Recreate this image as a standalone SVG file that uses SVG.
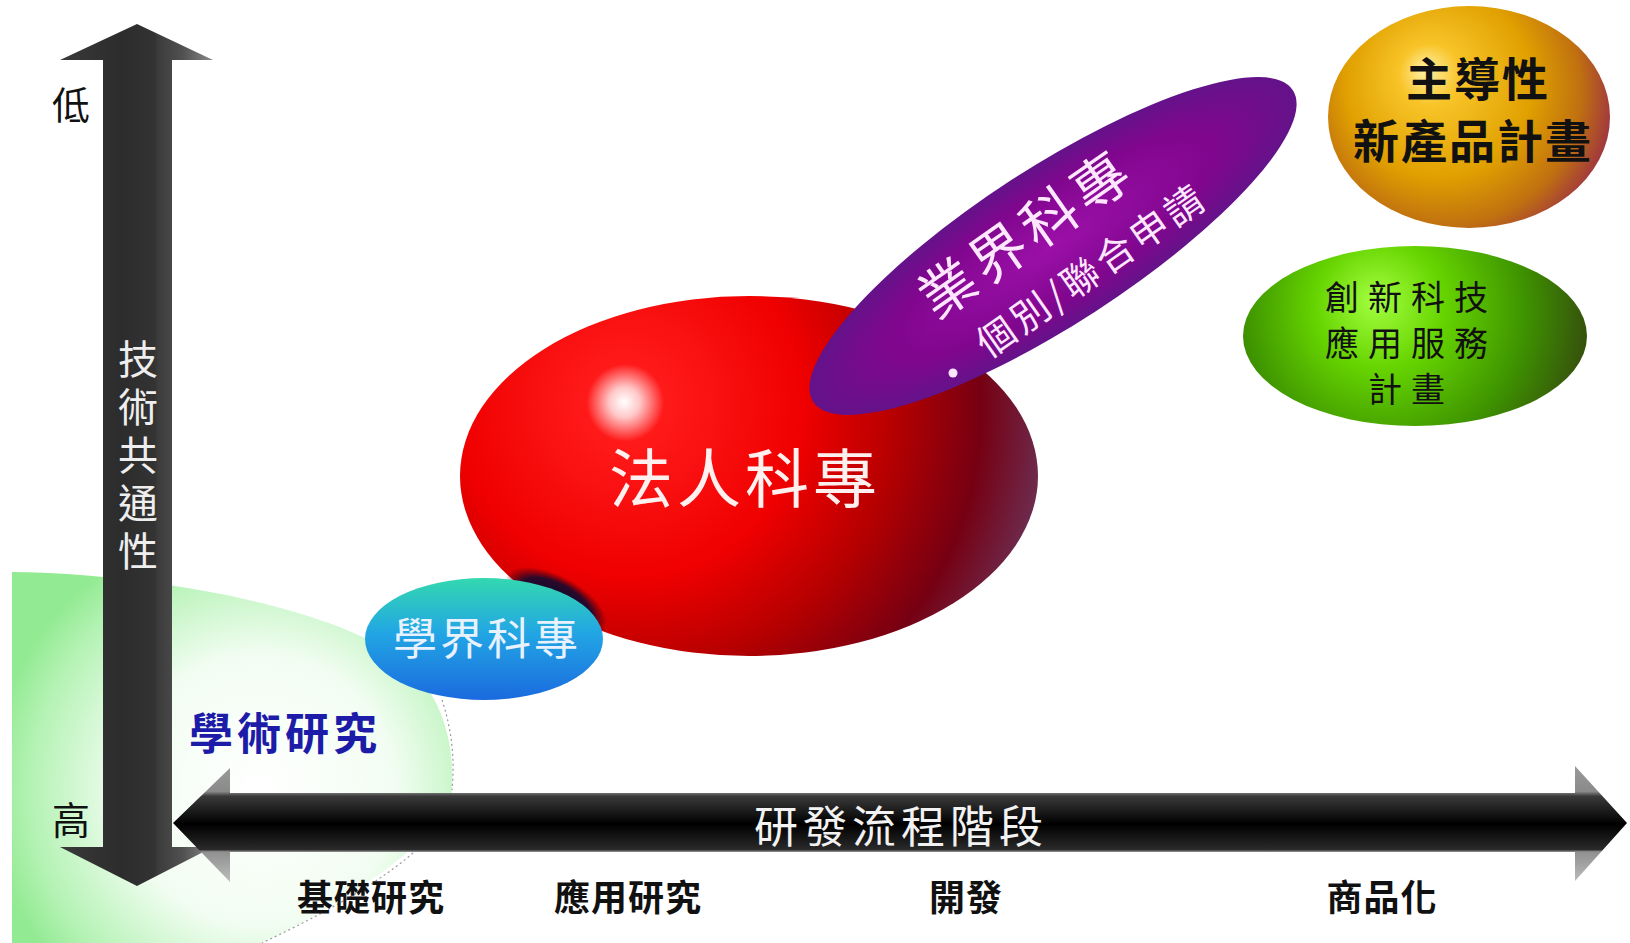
<svg xmlns="http://www.w3.org/2000/svg" width="1630" height="943" viewBox="0 0 1630 943">
<style>
text{font-family:"Noto Sans CJK TC","Noto Sans CJK SC",sans-serif;dominant-baseline:central;text-anchor:middle}
.stage{font-size:36px;font-weight:700;fill:#111;letter-spacing:1px}
.lvl{font-size:38px;fill:#111}
.blk{fill:#111}
</style>
<defs>
<radialGradient id="gGreenBg" gradientUnits="userSpaceOnUse" cx="260" cy="790" r="270">
<stop offset="0" stop-color="#ffffff"/><stop offset="0.5" stop-color="#f2fdf2"/><stop offset="0.85" stop-color="#b4f2b4"/><stop offset="1" stop-color="#92ea92"/>
</radialGradient>
<linearGradient id="gVert" x1="0" y1="0" x2="1" y2="0">
<stop offset="0" stop-color="#3a3a3a"/><stop offset="0.4" stop-color="#2c2c2c"/><stop offset="0.62" stop-color="#333"/><stop offset="0.64" stop-color="#3c3c3c"/><stop offset="0.8" stop-color="#505050"/><stop offset="1" stop-color="#8a8a8a"/>
</linearGradient>
<linearGradient id="gHoriz" gradientUnits="userSpaceOnUse" x1="0" y1="766" x2="0" y2="882">
<stop offset="0" stop-color="#9a9a9a"/><stop offset="0.22" stop-color="#8a8a8a"/><stop offset="0.26" stop-color="#3a3a3a"/><stop offset="0.5" stop-color="#000"/><stop offset="0.72" stop-color="#2a2a2a"/><stop offset="0.74" stop-color="#909090"/><stop offset="1" stop-color="#bdbdbd"/>
</linearGradient>
<radialGradient id="gRed" gradientUnits="userSpaceOnUse" cx="640" cy="410" r="430" fx="624" fy="402">
<stop offset="0" stop-color="#ffffff"/><stop offset="0.035" stop-color="#ffc8c8"/><stop offset="0.09" stop-color="#ff1a1a"/><stop offset="0.4" stop-color="#f00000"/><stop offset="0.6" stop-color="#b80000"/><stop offset="0.8" stop-color="#760012"/><stop offset="1" stop-color="#6a3a64"/>
</radialGradient>
<radialGradient id="gShadow" cx="0.5" cy="0.5" r="0.5">
<stop offset="0" stop-color="#0a0a30" stop-opacity="1"/><stop offset="0.7" stop-color="#140a30" stop-opacity="0.9"/><stop offset="1" stop-color="#300010" stop-opacity="0"/>
</radialGradient>
<linearGradient id="gBlue" x1="0" y1="0" x2="0" y2="1">
<stop offset="0" stop-color="#33d8b0"/><stop offset="0.45" stop-color="#22a6e4"/><stop offset="1" stop-color="#1a6ade"/>
</linearGradient>
<radialGradient id="gPurple" cx="0.5" cy="0.5" r="0.55">
<stop offset="0" stop-color="#9c10a8"/><stop offset="0.6" stop-color="#80068e"/><stop offset="1" stop-color="#5c1688"/>
</radialGradient>
<radialGradient id="gGold" gradientUnits="userSpaceOnUse" cx="1450" cy="95" r="170" fx="1425" fy="70">
<stop offset="0" stop-color="#fff2a8"/><stop offset="0.18" stop-color="#f8c428"/><stop offset="0.55" stop-color="#e0a000"/><stop offset="0.8" stop-color="#c07010"/><stop offset="1" stop-color="#9a2c48"/>
</radialGradient>
<radialGradient id="gLime" gradientUnits="userSpaceOnUse" cx="1390" cy="315" r="215" fx="1375" fy="300">
<stop offset="0" stop-color="#a4ff40"/><stop offset="0.3" stop-color="#66d400"/><stop offset="0.65" stop-color="#3e9400"/><stop offset="1" stop-color="#344010"/>
</radialGradient>
</defs>

<g id="academic-region">
<path d="M12,572 C160,574 330,608 400,658 C440,690 455,740 452,790 C448,840 330,910 262,943 L12,943 Z" fill="url(#gGreenBg)"/>
<path d="M442,700 C452,730 455,760 452,790 M413,853 C370,890 310,920 262,943" fill="none" stroke="#9a9a9a" stroke-width="1.2" stroke-dasharray="2 3"/>
<text x="285" y="731" style="font-size:44px;fill:#1c1ca8;font-weight:700;letter-spacing:4px">學術研究</text>
</g>

<g id="axes">
<path id="axis-vertical" d="M137,24 L213,60 L172,60 L172,847 L213,847 L137,886 L60,847 L103,847 L103,60 L60,60 Z" fill="url(#gVert)"/>
<path id="axis-horizontal" d="M173,823 L230,768 L230,793 L1575,793 L1575,766 L1627,823 L1575,881 L1575,852 L230,852 L230,882 Z" fill="url(#gHoriz)"/>
<text x="138" y="459" style="font-size:40px;fill:#eeeeee;writing-mode:vertical-rl;letter-spacing:8px">技術共通性</text>
<text class="lvl" x="71" y="102">低</text>
<text class="lvl" x="71" y="817">高</text>
<text x="901" y="824" style="font-size:44px;fill:#f2f2f2;letter-spacing:5px">研發流程階段</text>
<text class="stage" x="371" y="895">基礎研究</text>
<text class="stage" x="628" y="895">應用研究</text>
<text class="stage" x="966" y="895">開發</text>
<text class="stage" x="1382" y="895">商品化</text>
</g>

<g id="node-faren">
<ellipse cx="749" cy="476" rx="289" ry="180" fill="url(#gRed)"/>
<ellipse cx="556" cy="602" rx="56" ry="26" transform="rotate(28 556 602)" fill="url(#gShadow)"/>
<text x="745" y="474" style="font-size:64px;fill:#fff0f0;letter-spacing:4px">法人科專</text>
</g>

<g id="node-xuejie">
<ellipse cx="484" cy="639" rx="119" ry="61" fill="url(#gBlue)"/>
<text x="487" y="636" style="font-size:44px;fill:#e8f2ff;letter-spacing:3px">學界科專</text>
</g>

<g id="node-yejie">
<ellipse cx="1053" cy="246" rx="286" ry="78" transform="rotate(-33 1053 246)" fill="url(#gPurple)"/>
<text transform="translate(1024 230) rotate(-35)" style="font-size:56px;fill:#ffe6ff;letter-spacing:6px">業界科專</text>
<circle cx="953" cy="373" r="4.5" fill="#ffe6ff"/>
<text transform="translate(1090 268) rotate(-35)" style="font-size:38px;fill:#ffe6ff;letter-spacing:4px">個別/聯合申請</text>
</g>

<g id="node-zhudao">
<ellipse cx="1469" cy="117" rx="141" ry="111" fill="url(#gGold)"/>
<text class="blk" style="font-size:46px;font-weight:700;letter-spacing:2px"><tspan x="1478" y="76">主導性</tspan><tspan x="1473" y="138">新產品計畫</tspan></text>
</g>

<g id="node-chuangxin">
<ellipse cx="1415" cy="336" rx="172" ry="90" fill="url(#gLime)"/>
<text class="blk" style="font-size:34px;letter-spacing:9px"><tspan x="1411" y="295">創新科技</tspan><tspan x="1411" y="341">應用服務</tspan><tspan x="1411" y="387">計畫</tspan></text>
</g>
</svg>
